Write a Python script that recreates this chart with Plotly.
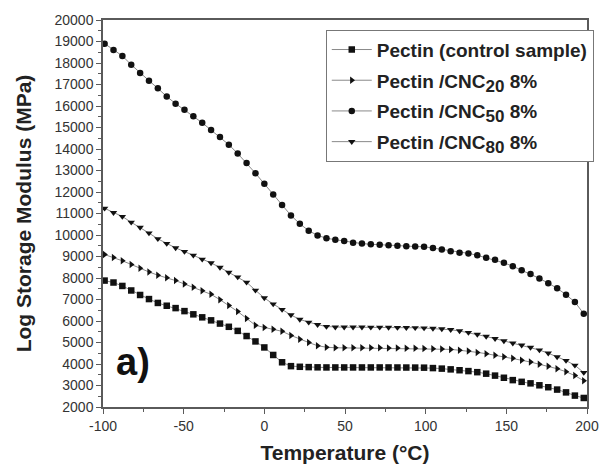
import plotly.graph_objects as go

temperature = [-99, -93.5, -88, -82.5, -77, -71.5, -66, -60.5, -55, -49.5, -44, -38.5, -33, -27.5,
               -22, -16.5, -11, -5.5, 0, 5.5, 11, 16.5, 22, 27.5, 33, 38.5, 44, 49.5, 55, 60.5,
               66, 71.5, 77, 82.5, 88, 93.5, 99, 104.5, 110, 115.5, 121, 126.5, 132, 137.5, 143,
               148.5, 154, 159.5, 165, 170.5, 176, 181.5, 187, 192.5, 198]

pectin_control = [7880, 7790, 7630, 7420, 7210, 7020, 6840, 6710, 6600, 6460, 6310, 6170, 6030, 5880,
                  5730, 5540, 5300, 5050, 4770, 4420, 4080, 3900, 3870, 3855, 3845, 3840, 3840, 3840,
                  3840, 3840, 3840, 3840, 3840, 3838, 3836, 3834, 3830, 3810, 3785, 3750, 3710, 3670,
                  3620, 3550, 3460, 3360, 3250, 3170, 3100, 3010, 2920, 2810, 2680, 2530, 2420]

pectin_cnc20 = [9090, 8950, 8800, 8630, 8450, 8280, 8130, 8010, 7880, 7720, 7570, 7410, 7240, 6990,
                6720, 6440, 6120, 5800, 5700, 5620, 5520, 5330, 5150, 5000, 4850, 4780, 4755, 4750,
                4750, 4750, 4750, 4750, 4745, 4740, 4735, 4730, 4725, 4715, 4700, 4680, 4640, 4600,
                4540, 4480, 4410, 4340, 4265, 4175, 4090, 3990, 3890, 3780, 3640, 3460, 3220]

pectin_cnc50 = [18900, 18600, 18330, 17920, 17530, 17180, 16820, 16440, 16110, 15820, 15520, 15220,
                14880, 14560, 14200, 13790, 13350, 12870, 12380, 11880, 11390, 10910, 10520, 10200,
                9980, 9850, 9780, 9720, 9640, 9600, 9570, 9545, 9525, 9495, 9475, 9465, 9455, 9395,
                9320, 9245, 9180, 9145, 9055, 8940, 8850, 8705, 8550, 8365, 8185, 7980, 7760, 7520,
                7225, 6880, 6340]

pectin_cnc80 = [11240, 11040, 10860, 10590, 10350, 10090, 9820, 9600, 9400, 9230, 9055, 8870, 8700,
                8490, 8260, 8045, 7800, 7430, 7070, 6790, 6530, 6280, 6070, 5940, 5830, 5740, 5715,
                5710, 5710, 5710, 5705, 5705, 5700, 5695, 5690, 5685, 5670, 5655, 5630, 5595, 5535,
                5460, 5375, 5280, 5180, 5075, 4965, 4875, 4770, 4650, 4500, 4330, 4160, 3940, 3600]

SUB = '<sub><span style="font-size:17px">{}</span></sub>'
series_names = ["Pectin (control sample)", "Pectin /CNC" + SUB.format("20") + " 8%",
                "Pectin /CNC" + SUB.format("50") + " 8%", "Pectin /CNC" + SUB.format("80") + " 8%"]
series_values = [pectin_control, pectin_cnc20, pectin_cnc50, pectin_cnc80]
series_symbols = ["square", "triangle-right", "circle", "triangle-down"]

x_ticks = [-100, -50, 0, 50, 100, 150, 200]
y_ticks = list(range(2000, 20001, 1000))

FONT = "Arial, 'Liberation Sans', sans-serif"
AXIS_COLOR = "#5a5a5a"

fig = go.Figure()
for name, vals, sym in zip(series_names, series_values, series_symbols):
    fig.add_trace(go.Scatter(
        x=temperature, y=vals, name=name, mode="lines+markers",
        line=dict(color="#8a8a8a", width=1),
        marker=dict(symbol=sym, size=6.5, color="#111111"),
        legendgroup=name,
    ))

fig.update_layout(
    width=611, height=473,
    margin=dict(l=103, r=12, t=20, b=64),
    paper_bgcolor="white", plot_bgcolor="white",
    font=dict(family=FONT, color="#222222"),
    showlegend=True,
    legend=dict(
        x=1.014, y=0.975, xanchor="right", yanchor="top",
        bordercolor="#777777", borderwidth=1, bgcolor="white",
        font=dict(family=FONT, size=19, color="#222222", weight="bold"),
        tracegroupgap=3, itemwidth=40,
    ),
    xaxis=dict(
        range=[-100, 200], tickvals=x_ticks, ticktext=[str(v) for v in x_ticks],
        showgrid=False, zeroline=False,
        showline=True, linecolor=AXIS_COLOR, linewidth=1.5, mirror=True,
        ticks="outside", ticklen=5, tickwidth=1.2, tickcolor=AXIS_COLOR,
        minor=dict(dtick=25, ticks="outside", ticklen=3, tickwidth=1, tickcolor=AXIS_COLOR),
        tickfont=dict(family=FONT, size=14, color="#333333"),
        title=dict(text="Temperature (°C)", standoff=13,
                   font=dict(family=FONT, size=21, color="#222222", weight="bold")),
    ),
    yaxis=dict(
        range=[2000, 20000], tickvals=y_ticks, ticktext=[str(v) for v in y_ticks],
        showgrid=False, zeroline=False,
        showline=True, linecolor=AXIS_COLOR, linewidth=1.5, mirror=True,
        ticks="outside", ticklen=5, tickwidth=1.2, tickcolor=AXIS_COLOR,
        minor=dict(dtick=500, ticks="outside", ticklen=3, tickwidth=1, tickcolor=AXIS_COLOR),
        tickfont=dict(family=FONT, size=14, color="#333333"),
        title=dict(text="Log Storage Modulus (MPa)", standoff=17,
                   font=dict(family=FONT, size=21, color="#222222", weight="bold")),
    ),
    annotations=[dict(
        text="a)", xref="paper", yref="paper", x=0.022, y=0.115,
        xanchor="left", yanchor="middle", showarrow=False,
        font=dict(family=FONT, size=38, color="#111111", weight="bold"),
    )],
)

fig.write_html("out.html")
